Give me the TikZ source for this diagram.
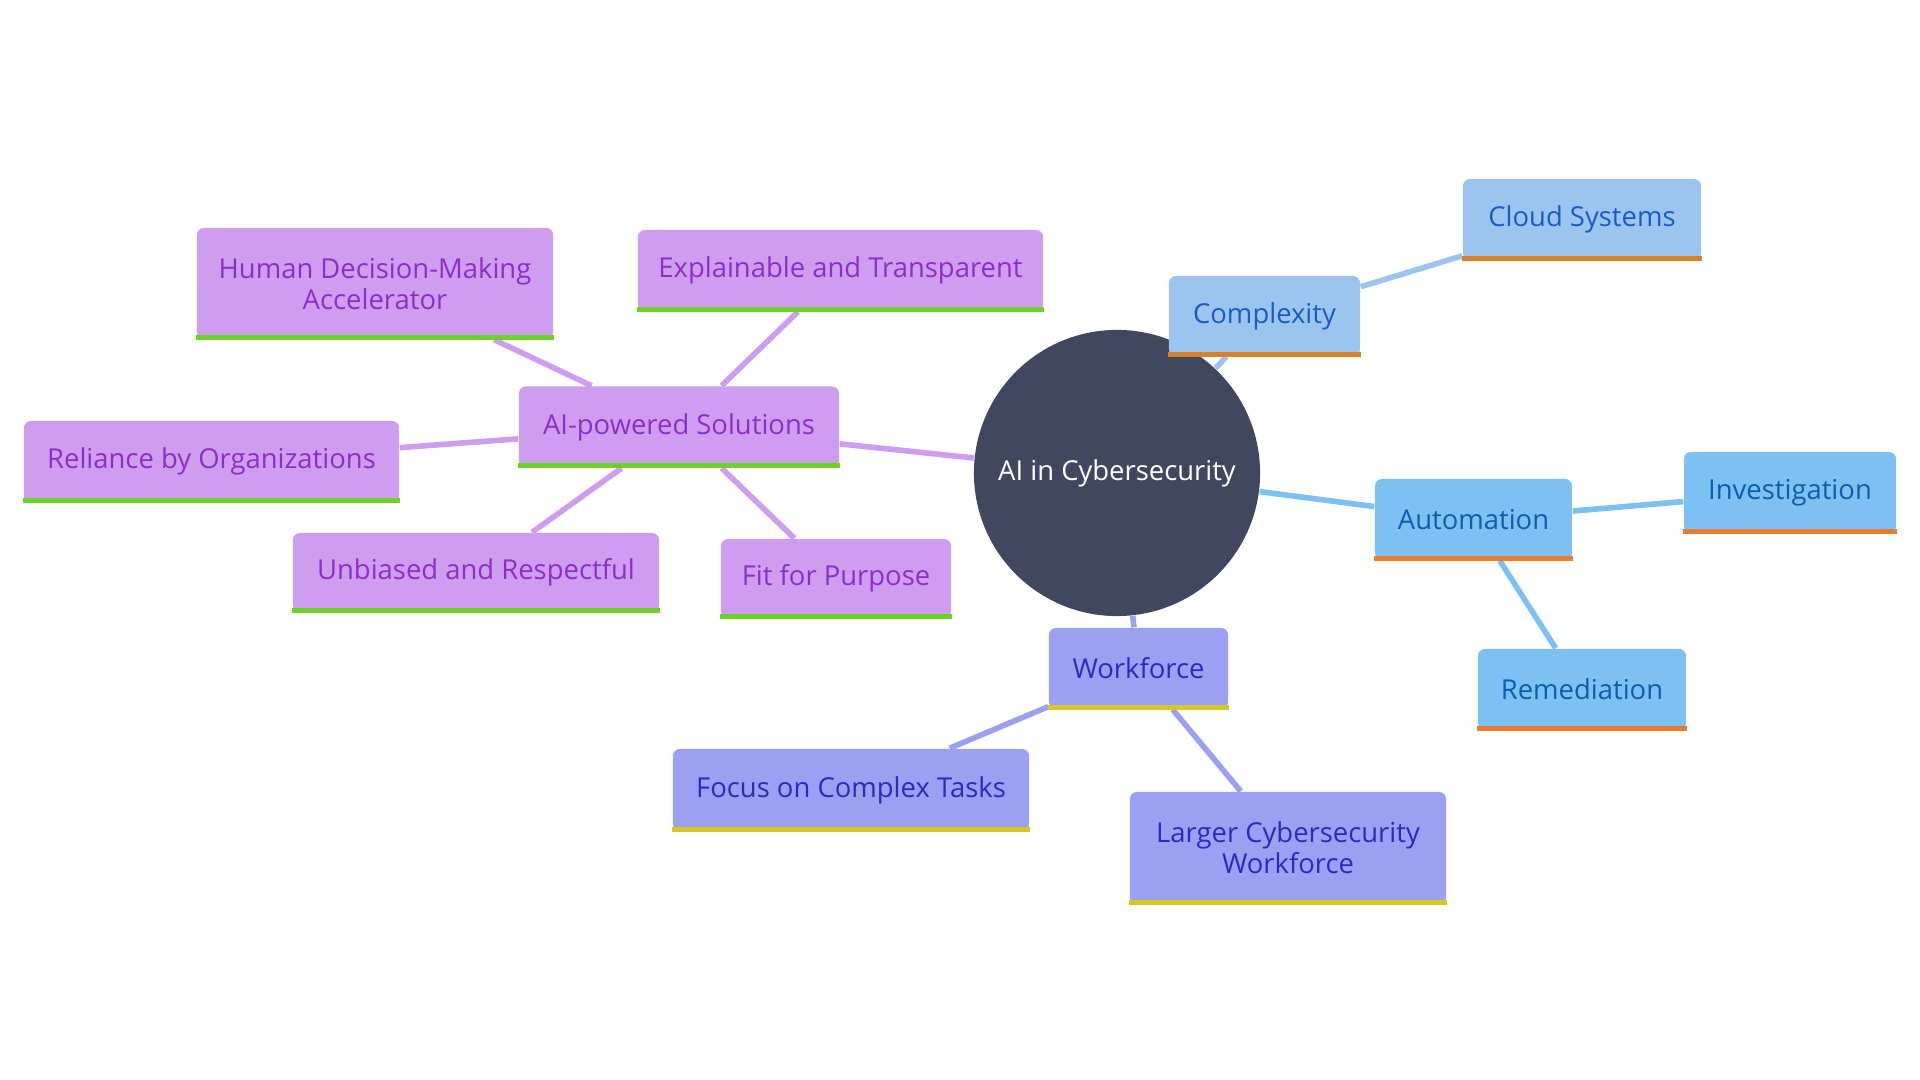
\documentclass[tikz,border=0pt]{standalone}
\usepackage{fontspec}
\setmainfont{Open Sans}
\usepackage{tikz}
\usetikzlibrary{backgrounds}

\definecolor{hubfill}{RGB}{66,71,96}
\definecolor{solfill}{RGB}{206,157,240}
\definecolor{soltext}{RGB}{142,45,205}
\definecolor{solbar}{RGB}{108,210,40}
\definecolor{cplxfill}{RGB}{156,196,240}
\definecolor{cplxtext}{RGB}{27,92,196}
\definecolor{cplxbar}{RGB}{215,130,40}
\definecolor{autofill}{RGB}{125,193,242}
\definecolor{autotext}{RGB}{12,94,178}
\definecolor{autobar}{RGB}{232,125,50}
\definecolor{wffill}{RGB}{155,160,242}
\definecolor{wftext}{RGB}{43,43,190}
\definecolor{wfbar}{RGB}{212,200,40}

\tikzset{
  box/.style={rounded corners=2pt,inner sep=0pt,align=center,
    minimum height=0.81cm,font=\fontsize{7.8}{8.7}\selectfont},
  solbox/.style={box,fill=solfill,text=soltext},
  cplxbox/.style={box,fill=cplxfill,text=cplxtext},
  autobox/.style={box,fill=autofill,text=autotext},
  wfbox/.style={box,fill=wffill,text=wftext},
  link/.style={line width=1.6pt}
}

\begin{document}
\begin{tikzpicture}[x=0.01cm,y=-0.01cm]
  \useasboundingbox (0,0) rectangle (1920,1080);

  % hub
  \node[circle,fill=hubfill,text=white,minimum size=2.86cm,inner sep=0pt,
    font=\fontsize{7.8}{8.7}\selectfont] (ai) at (1117,473) {AI in Cybersecurity};

  % solutions branch
  \node[solbox,minimum width=3.2cm] (sol) at (679,427) {AI-powered Solutions};
  \node[solbox,minimum width=3.56cm,minimum height=1.11cm] (hdm) at (375,283.5) {Human Decision-Making\\Accelerator};
  \node[solbox,minimum width=4.05cm] (expl) at (840.5,270.5) {Explainable and Transparent};
  \node[solbox,minimum width=3.75cm] (rel) at (211.5,461.5) {Reliance by Organizations};
  \node[solbox,minimum width=3.66cm,minimum height=0.79cm] (unb) at (476,572.5) {Unbiased and Respectful};
  \node[solbox,minimum width=2.3cm,minimum height=0.79cm] (fit) at (836,578.5) {Fit for Purpose};

  % complexity branch
  \node[cplxbox,minimum width=1.91cm,minimum height=0.8cm] (cplx) at (1264.5,316) {Complexity};
  \node[cplxbox,minimum width=2.38cm] (cloud) at (1582,219.5) {Cloud Systems};

  % automation branch
  \node[autobox,minimum width=1.97cm] (auto) at (1473.5,519.5) {Automation};
  \node[autobox,minimum width=2.12cm] (inv) at (1790,492.5) {Investigation};
  \node[autobox,minimum width=2.08cm] (rem) at (1582,689.5) {Remediation};

  % workforce branch
  \node[wfbox,minimum width=1.79cm] (wf) at (1138.5,668.5) {Workforce};
  \node[wfbox,minimum width=3.56cm,minimum height=0.82cm] (focus) at (851,790) {Focus on Complex Tasks};
  \node[wfbox,minimum width=3.16cm,minimum height=1.12cm] (larger) at (1288,848) {Larger Cybersecurity\\Workforce};

  % bottom bars
  \foreach \n/\c in {sol/solbar,hdm/solbar,expl/solbar,rel/solbar,unb/solbar,fit/solbar,
      cplx/cplxbar,cloud/cplxbar,auto/autobar,inv/autobar,rem/autobar,
      wf/wfbar,focus/wfbar,larger/wfbar}
    \fill[\c] (\n.south west) rectangle ([yshift=0.05cm]\n.south east);

  \begin{scope}[on background layer]
    \draw[link,solfill] (ai) -- (sol);
    \foreach \n in {hdm,expl,rel,unb,fit}
      \draw[link,solfill] (sol) -- (\n);
    \draw[link,cplxfill] (ai) -- (cplx) (cplx) -- (cloud);
    \draw[link,autofill] (ai) -- (auto) (auto) -- (inv) (auto) -- (rem);
    \draw[link,wffill] (ai) -- (wf) (wf) -- (focus) (wf) -- (larger);
  \end{scope}
\end{tikzpicture}
\end{document}
